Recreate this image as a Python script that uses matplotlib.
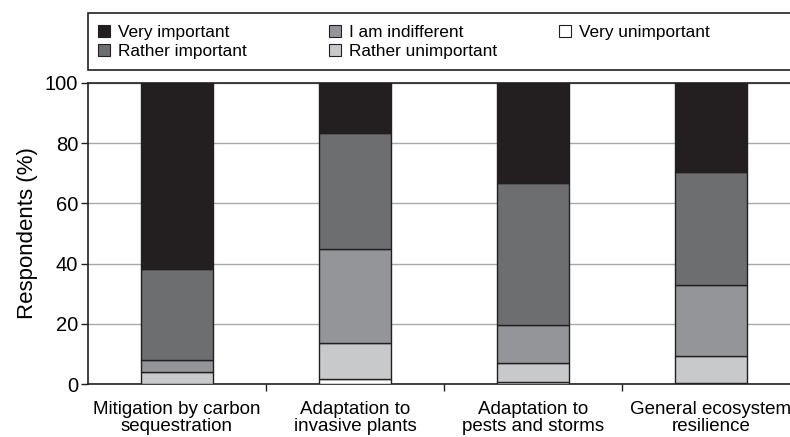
import numpy as np
import matplotlib
matplotlib.use("Agg")
import matplotlib.pyplot as plt
from matplotlib.patches import Patch, Rectangle

plt.rcParams['font.family'] = ['Liberation Sans', 'DejaVu Sans']

categories = ["Mitigation by carbon\nsequestration", "Adaptation to\ninvasive plants",
              "Adaptation to\npests and storms", "General ecosystem\nresilience"]
very_unimportant = [0.0, 1.5, 0.6, 0.3]
rather_unimportant = [3.9, 12.2, 6.5, 8.9]
indifferent = [4.0, 31.3, 12.6, 23.7]
rather_important = [30.3, 38.4, 47.0, 37.4]
very_important = [61.8, 16.6, 33.3, 29.7]

series = [
    ("Very unimportant", very_unimportant, "#ffffff"),
    ("Rather unimportant", rather_unimportant, "#c8c9cb"),
    ("I am indifferent", indifferent, "#939598"),
    ("Rather important", rather_important, "#6d6e70"),
    ("Very important", very_important, "#231f20"),
]
edge = "#231f20"
W, H = 790, 437

fig = plt.figure(figsize=(7.9, 4.37), dpi=100)
ax = fig.add_axes([88 / W, 1 - 384 / H, 712 / W, 301 / H])

x = np.arange(len(categories))
width = 0.405
bottom = np.zeros(len(categories))
for name, vals, col in series:
    ax.bar(x, vals, width, bottom=bottom, color=col, edgecolor=edge, linewidth=1.0, zorder=3)
    bottom += np.array(vals)

ax.set_xlim(-0.5, len(categories) - 0.5)
ax.set_ylim(0, 100)
ax.set_yticks([0, 20, 40, 60, 80, 100])
ax.yaxis.grid(True, color="#a7a9ac", linewidth=1.0, zorder=0)
ax.tick_params(axis="y", labelsize=14.5, direction="out", length=5, width=1, color=edge, pad=2)
ax.set_ylabel("Respondents (%)", fontsize=16, labelpad=5)

ax.set_xticks(x)
ax.set_xticklabels(categories, fontsize=13.5, linespacing=1.05)
ax.tick_params(axis="x", which="major", length=0, pad=12)
ax.set_xticks(np.arange(0.5, len(categories) - 0.5, 1), minor=True)
ax.tick_params(axis="x", which="minor", direction="out", length=5, width=1, color=edge)

for s in ["left", "bottom", "top"]:
    ax.spines[s].set_color(edge)
    ax.spines[s].set_linewidth(1.2)
ax.spines["right"].set_visible(False)

# legend box spanning past the right edge, three columns placed by hand
fig.add_artist(Rectangle((88 / W, 1 - 70 / H), 730 / W, 57 / H, transform=fig.transFigure,
                         facecolor="white", edgecolor=edge, linewidth=1.2))
columns = [[4, 3], [2, 1], [0]]
col_x = [98, 329, 559]
for cx, idxs in zip(col_x, columns):
    handles = [Patch(facecolor=series[i][2], edgecolor=edge, linewidth=0.8) for i in idxs]
    labels = [series[i][0] for i in idxs]
    fig.legend(handles, labels, loc="upper left", bbox_to_anchor=(cx / W, 1 - 25 / H),
               fontsize=12.4, frameon=False, handlelength=0.7, handleheight=0.7,
               handletextpad=0.45, labelspacing=0.25, borderaxespad=0, borderpad=0)

fig.savefig("out.png", dpi=100)
